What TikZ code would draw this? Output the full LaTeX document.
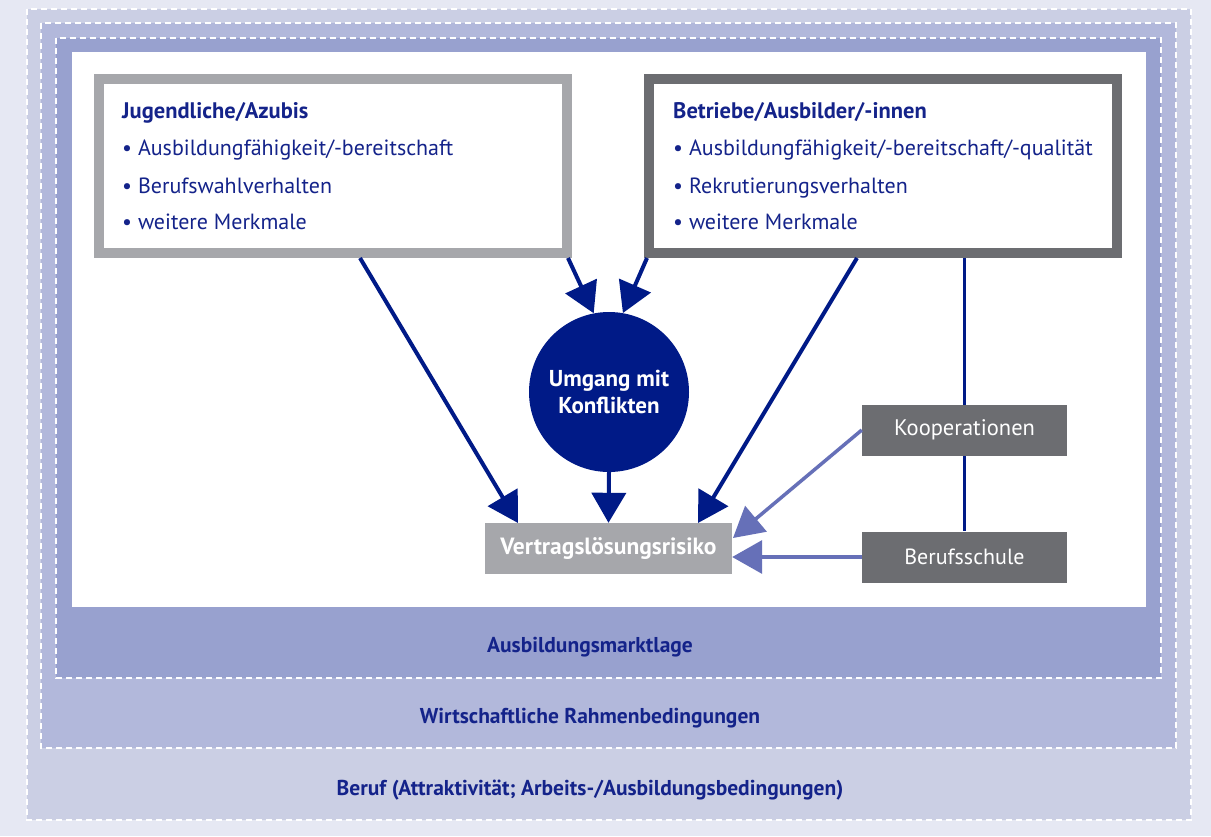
\documentclass[tikz,border=0pt]{standalone}
\usepackage{fontspec}
\setmainfont{PT Sans}
\usetikzlibrary{arrows.meta}
\definecolor{bgA}{HTML}{E6E8F3}
\definecolor{bgB}{HTML}{CBCFE4}
\definecolor{bgC}{HTML}{B2B8DB}
\definecolor{bgD}{HTML}{98A1CF}
\definecolor{navy}{HTML}{001A87}
\definecolor{txtblue}{HTML}{14238A}
\definecolor{lgray}{HTML}{A6A7AB}
\definecolor{dgray}{HTML}{6C6D71}
\definecolor{lblue}{HTML}{6670B8}
\tikzset{
  layer/.style={draw=white, line width=1.5pt, dash pattern=on 6pt off 4pt},
  bigbox/.style={draw, line width=10pt, fill=white, minimum width=468pt, minimum height=174pt, inner sep=0pt},
  boxtxt/.style={text=txtblue, anchor=base west, inner sep=0pt, font=\fontsize{22}{26}\selectfont},
  boxhead/.style={boxtxt, font=\fontsize{22.5}{26}\selectfont\bfseries},
  layertxt/.style={text=txtblue, anchor=base, inner sep=0pt, font=\fontsize{21.5}{26}\selectfont\bfseries},
  graybox/.style={fill=dgray, text=white, minimum width=205pt, minimum height=51pt, inner sep=0pt, font=\fontsize{22}{26}\selectfont},
  darr/.style={draw=navy, line width=4pt, -{Triangle[length=30pt,width=34pt]}},
  larr/.style={draw=lblue, line width=3.5pt, -{Triangle[length=30pt,width=33pt]}},
}
\begin{document}
\begin{tikzpicture}[x=1pt,y=-1pt]
\fill[bgA] (0,0) rectangle (1211,836);
\useasboundingbox (0,0) rectangle (1211,836);
\filldraw[fill=bgB, layer] (27,9) rectangle (1191,820);
\filldraw[fill=bgC, layer] (41,23) rectangle (1176,748);
\filldraw[fill=bgD, layer] (56,38) rectangle (1161,678);
\fill[white] (72,52) rectangle (1146,607);
\node[layertxt] (t1) at (590,652) {Ausbildungsmarktlage};
\node[layertxt] (t2) at (590,723) {Wirtschaftliche Rahmenbedingungen};
\node[layertxt] (t3) at (590,795) {Beruf (Attraktivität; Arbeits-/Ausbildungsbedingungen)};
% boxes
\node[bigbox, draw=lgray] (L) at (332.5,166) {};
\node[bigbox, draw=dgray] (R) at (883,166) {};
\node[boxhead] (L0) at (122,118) {Jugendliche/Azubis};
\node[boxtxt] (L1) at (122,155) {• Ausbildungfähigkeit/-bereitschaft};
\node[boxtxt] (L2) at (122,193) {• Berufswahlverhalten};
\node[boxtxt] (L3) at (122,229) {• weitere Merkmale};
\node[boxhead] (R0) at (673,118) {Betriebe/Ausbilder/-innen};
\node[boxtxt] (R1) at (673,155) {• Ausbildungfähigkeit/-bereitschaft/-qualität};
\node[boxtxt] (R2) at (673,193) {• Rekrutierungsverhalten};
\node[boxtxt] (R3) at (673,229) {• weitere Merkmale};
% circle
\node[circle, fill=navy, minimum size=160pt, inner sep=0pt, text=white, align=center,
  font=\fontsize{23}{27}\selectfont\bfseries] (C) at (609,392) {Umgang mit\\Konflikten};
% result box
\node[fill=lgray, text=white, minimum width=247pt, minimum height=51pt, inner sep=0pt,
  font=\fontsize{23.5}{26}\selectfont\bfseries] (V) at (608.5,548.5) {Vertragslösungsrisiko};
% right side
\node[graybox] (B) at (964.5,557) {Berufsschule};
\draw[navy, line width=3pt] (B.north |- R.south) -- (B.north);
\node[graybox, font=\fontsize{22.5}{26}\selectfont] (K) at (964.5,430) {Kooperationen};
% connectors
\coordinate (a1) at (360,258);
\coordinate (v1) at (518,523);
\coordinate (a2) at (568,258);
\coordinate (a3) at (647,258);
\coordinate (a5) at (857,258);
\coordinate (v5) at (698,523);
\coordinate (v6) at (733,538);
\draw[darr] (a1) -- (v1);
\draw[darr] (a2) -- (C.101);
\draw[darr] (a3) -- (C.80);
\draw[darr] (C.south) -- (V.north);
\draw[darr] (a5) -- (v5);
\draw[larr] (K.west) -- (v6);
\draw[larr] (B.west) -- (B.west -| V.east);
\end{tikzpicture}
\end{document}
